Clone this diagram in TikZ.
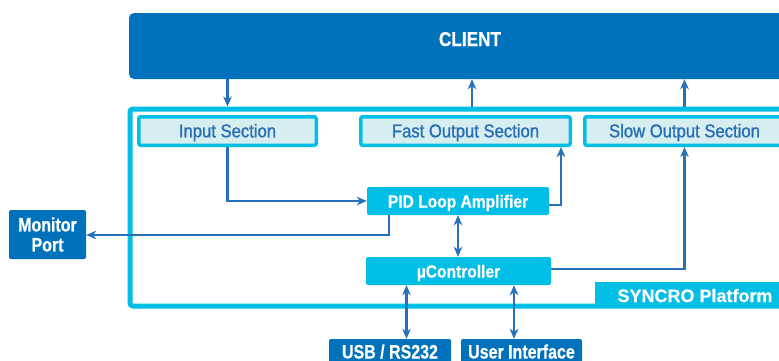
\documentclass[tikz,border=0pt]{standalone}
\usepackage{fontspec}
\setmainfont{Liberation Sans}
\newfontfamily\fReg[FakeStretch=0.90,FakeBold=1.2]{Liberation Sans}
\newfontfamily\fCli[FakeStretch=0.86,FakeBold=0.6]{Liberation Sans}
\newfontfamily\fPid[FakeStretch=0.89,FakeBold=0.5]{Liberation Sans}
\newfontfamily\fDark[FakeStretch=0.82,FakeBold=0.6]{Liberation Sans}
\newfontfamily\fSyn[FakeBold=0.4]{Liberation Sans}
\usetikzlibrary{arrows.meta}
\definecolor{cblue}{RGB}{0,114,188}
\definecolor{ccyan}{RGB}{0,190,230}
\definecolor{clight}{RGB}{214,238,240}
\definecolor{cline}{RGB}{40,112,186}
\definecolor{ctext}{RGB}{40,110,180}
\begin{document}
\begin{tikzpicture}[x=1pt,y=-1pt,
  lightbox/.style={draw=ccyan, line width=3.5pt, fill=clight, rounded corners=2pt,
    text=ctext, font=\fReg\fontsize{18.5}{21}\selectfont, inner sep=0pt,
    minimum height=28.5pt, text height=12.6pt, text depth=0pt},
  cyanbox/.style={fill=ccyan, rounded corners=2pt, text=white, inner sep=0pt,
    minimum height=28pt, font=\fPid\bfseries\fontsize{17.5}{20}\selectfont,
    text height=13pt, text depth=0pt},
  darkbox/.style={fill=cblue, rounded corners=2pt, text=white, inner sep=0pt,
    font=\fDark\bfseries\fontsize{19.5}{21}\selectfont},
  conn/.style={draw=cline, line width=2.2pt},
  tip/.style={-{Stealth[length=10pt,width=8.5pt,inset=3pt]}},
  dtip/.style={{Stealth[length=10pt,width=8.5pt,inset=3pt]}-{Stealth[length=10pt,width=8.5pt,inset=3pt]}}
]
\useasboundingbox (0,0) rectangle (779,360);
\clip (0,0) rectangle (779,360);

% client
\node[fill=cblue, rounded corners=5pt, minimum width=682pt, minimum height=66pt,
  inner sep=0pt, text=white, font=\fCli\bfseries\fontsize{20}{22}\selectfont,
  text height=10pt, text depth=10pt] (client) at (470,46) {CLIENT};

% platform frame
\node[draw=ccyan, line width=5pt, rounded corners=3pt, minimum width=700pt,
  minimum height=197pt, inner sep=0pt] (plat) at (480,207.5) {};

% sections
\node[lightbox, minimum width=177.5pt] (input) at (227.5,131) {Input Section};
\node[lightbox, minimum width=209.5pt] (fast) at (465.5,131) {Fast Output Section};
\node[lightbox, minimum width=199.5pt] (slow) at (684.5,131) {Slow Output Section};

% inner blocks
\node[cyanbox, minimum width=182pt] (pid) at (458,201) {PID Loop Amplifier};
\node[cyanbox, minimum width=185pt] (uc) at (458.5,271) {µController};

% platform label
\node[fill=ccyan, inner sep=0pt, minimum width=210pt, minimum height=24pt,
  text=white, font=\fSyn\bfseries\fontsize{18}{20}\selectfont, text height=16pt,
  text depth=0pt] (syncro) at (700,294) {\hspace*{-10pt}SYNCRO Platform};

% external
\node[darkbox, minimum width=77pt, minimum height=49pt, align=center]
  (mon) at (47.5,234.5) {Monitor\\[-1pt]Port};
\node[darkbox, minimum width=122pt, minimum height=26pt, text height=13pt,
  text depth=0pt] (usb) at (390,352) {USB / RS232};
\node[darkbox, minimum width=121pt, minimum height=26pt, text height=13pt,
  text depth=0pt] (ui) at (521.5,352) {User Interface};

% helper coordinates
\coordinate (fu) at (472,0);
\coordinate (fb) at (561,0);
\coordinate (mx) at (389,0);
\coordinate (ux) at (406.5,0);
\coordinate (ix) at (514,0);

% connectors
\draw[conn,tip] (input.north |- client.south) -- (input.north |- plat.north);
\draw[conn,tip] (fu |- plat.north) -- (fu |- client.south);
\draw[conn,tip] (slow.north |- plat.north) -- (slow.north |- client.south);
\draw[conn,tip] (input.south) |- (pid.west);
\draw[conn,tip] ([yshift=-4pt]pid.east) -| (fb |- fast.south);
\draw[conn,tip] (mx |- pid.south) |- ([yshift=-0.5pt]mon.east);
\draw[conn,dtip] (pid.south) -- (pid.south |- uc.north);
\draw[conn,tip] ([yshift=2pt]uc.east) -| (slow.south);
\draw[conn,dtip] (ux |- uc.south) -- (ux |- usb.north);
\draw[conn,dtip] (ix |- uc.south) -- (ix |- ui.north);
\end{tikzpicture}
\end{document}
